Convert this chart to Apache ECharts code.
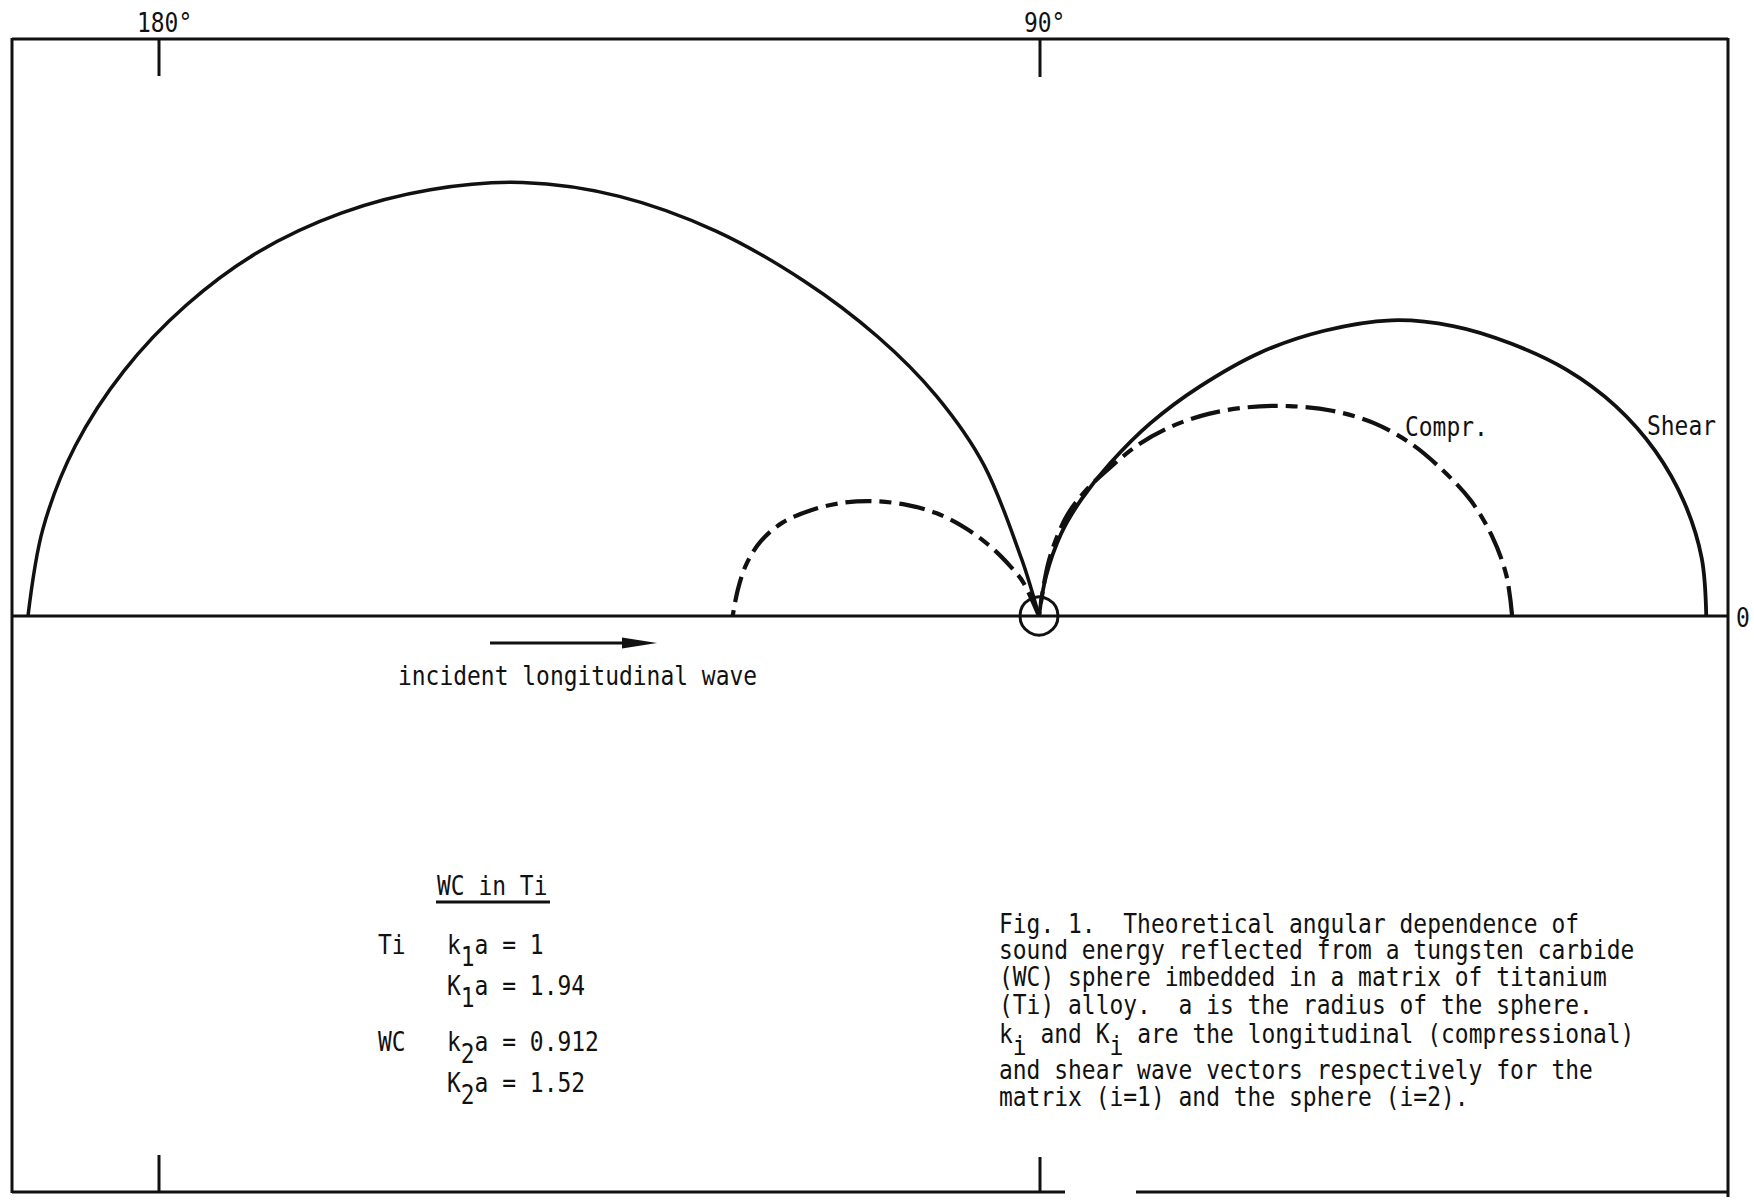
<!DOCTYPE html>
<html>
<head>
<meta charset="utf-8">
<title>Fig. 1 WC in Ti</title>
<script src="https://cdn.jsdelivr.net/npm/echarts@6/dist/echarts.min.js"></script>
<style>
  html, body { margin: 0; padding: 0; background: #fff; }
  #chart { width: 1754px; height: 1201px; }
</style>
</head>
<body>
<div id="chart"></div>
<script>
// reflected energy (relative units), angle measured from the incident direction
const shearRightAngle = [0, 5, 10, 15, 20, 25, 30, 35, 40, 45, 50, 55, 60, 65, 70, 75, 80, 84]
const shearRight = [66.0, 65.8, 64.8, 63.1, 60.7, 57.6, 53.9, 50.0, 45.5, 39.9, 34.0, 27.7, 22.0, 16.7, 12.3, 8.4, 4.0, 0]
const shearLeftAngle = [105, 107, 110, 115, 120, 125, 130, 135, 140, 145, 150, 155, 160, 165, 170, 175, 180]
const shearLeft = [0, 5.9, 15.8, 24.0, 31.9, 40.4, 49.7, 58.7, 66.7, 73.5, 79.7, 85.2, 89.8, 93.7, 96.8, 98.9, 100]

const comprRightAngle = [0, 5, 10, 15, 20, 25, 30, 35, 40, 45, 50, 55, 60, 65, 70, 75, 80, 86]
const comprRight = [46.8, 46.4, 45.5, 44.2, 42.4, 40.5, 38.2, 35.4, 32.3, 29.2, 26.1, 22.9, 19.5, 15.9, 13.0, 9.9, 5.4, 0]
const comprLeftAngle = [112, 115, 120, 125, 130, 135, 140, 145, 150, 155, 160, 165, 170, 175, 180]
const comprLeft = [0, 3.6, 5.7, 8.4, 11.4, 14.4, 17.1, 19.8, 22.4, 24.8, 27.0, 28.5, 29.4, 29.9, 30.3]

const tickLabels = ['180°', '90°']
const legendLines = ['k{s|1}a = 1', 'K{s|1}a = 1.94', 'k{s|2}a = 0.912', 'K{s|2}a = 1.52']
const captionLines = [
  'Fig. 1.  Theoretical angular dependence of',
  'sound energy reflected from a tungsten carbide',
  '(WC) sphere imbedded in a matrix of titanium',
  '(Ti) alloy.  a is the radius of the sphere.',
  'k{s|i} and K{s|i} are the longitudinal (compressional)',
  'and shear wave vectors respectively for the',
  'matrix (i=1) and the sphere (i=2).'
]

const toPolar = (r, a) => r.map((v, i) => [v, a[i]])

const FONT = '"DejaVu Sans Mono", "Liberation Mono", monospace'
const ink = '#111'

// one lobe = one smooth polyline through the polar coordinate system
// (line series smoothing clamps control points and flattens round lobes)
const lobe = (name, r, a, width, dash) => ({
  name,
  type: 'custom',
  coordinateSystem: 'polar',
  data: toPolar(r, a),
  silent: true,
  renderItem: (params, api) => {
    if (params.dataIndex !== 0) return
    const points = r.map((v, i) => api.coord([v, a[i]]))
    return {
      type: 'polyline',
      shape: { points, smooth: 0.33, smoothConstraint: false },
      style: { fill: 'none', stroke: ink, lineWidth: width, lineDash: dash || null, lineCap: 'butt', lineJoin: 'round' }
    }
  }
})

// simple helpers for the decorations
const line = (x1, y1, x2, y2, w) => ({
  type: 'line', silent: true,
  shape: { x1, y1, x2, y2 },
  style: { stroke: ink, lineWidth: w || 3 }
})
// typewriter text: tall and narrow, so the mono font is squeezed a bit
const text = (x, y, t, rich) => ({
  type: 'text', silent: true, x, y, scaleX: 0.85,
  style: {
    text: t, fill: ink, fontSize: 27, fontFamily: FONT,
    align: 'left', verticalAlign: 'middle',
    lineHeight: rich ? 51 : 30,
    rich: rich ? { s: { fontSize: 27, fontFamily: FONT, fill: ink, verticalAlign: 'bottom' } } : undefined
  }
})

let myCharts = echarts.init(document.getElementById('chart'), null, { renderer: 'svg' })

myCharts.setOption({
  animation: false,
  backgroundColor: '#fff',
  // polar plot, origin at the sphere
  polar: {
    center: [1039, 616],
    radius: 1011
  },
  angleAxis: {
    type: 'value',
    min: 0,
    max: 360,
    startAngle: 0,
    clockwise: false,
    show: false
  },
  radiusAxis: {
    type: 'value',
    min: 0,
    max: 100,
    show: false
  },
  series: [
    lobe('Shear', shearRight, shearRightAngle, 3.8),
    lobe('Shear', shearLeft, shearLeftAngle, 3.5),
    lobe('Compr.', comprRight, comprRightAngle, 4.2, [30, 8, 12, 8]),
    lobe('Compr.', comprLeft, comprLeftAngle, 4.2, [26, 8, 12, 8])
  ],
  graphic: [
    // frame
    line(12, 39, 1728, 39),
    line(12, 38, 12, 1193),
    line(1728, 38, 1728, 1197),
    line(12, 1192, 1065, 1192),
    line(1136, 1192, 1728, 1192),
    // ticks
    line(159, 39, 159, 76),
    line(1040, 39, 1040, 77),
    line(159, 1155, 159, 1192),
    line(1040, 1157, 1040, 1192),
    text(137, 23, tickLabels[0]),
    text(1024, 23, tickLabels[1]),
    // baseline through the sphere
    line(12, 616, 1728, 616, 2.8),
    text(1736, 618, '0'),
    {
      type: 'circle', silent: true,
      shape: { cx: 1039, cy: 616, r: 19 },
      style: { fill: 'none', stroke: ink, lineWidth: 3 }
    },
    // curve labels
    text(1405, 427, 'Compr.'),
    text(1647, 426, 'Shear'),
    // incident wave arrow
    line(490, 643, 628, 643, 3),
    {
      type: 'polygon', silent: true,
      shape: { points: [[622, 637.5], [657, 643], [622, 648.5]] },
      style: { fill: ink }
    },
    text(398, 676, 'incident longitudinal wave'),
    // material parameters
    text(437, 886, 'WC in Ti'),
    line(436, 902, 550, 902, 3),
    text(378, 945, 'Ti'),
    text(378, 1042, 'WC'),
    text(447, 945, legendLines[0], true),
    text(447, 986, legendLines[1], true),
    text(447, 1042, legendLines[2], true),
    text(447, 1083, legendLines[3], true),
    // caption
    ...captionLines.map((t, i) => text(999, [924, 950, 977, 1005, 1034, 1070, 1097][i], t, t.indexOf('{s|') >= 0))
  ]
})
</script>
</body>
</html>
